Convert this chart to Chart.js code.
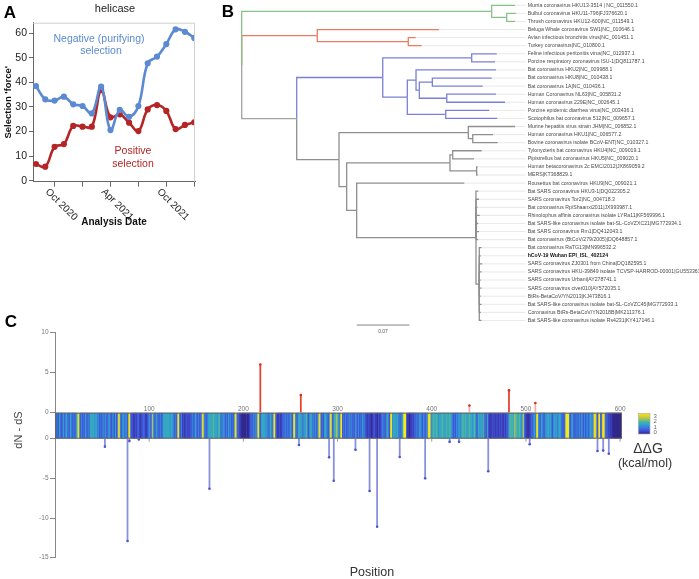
<!DOCTYPE html>
<html>
<head>
<meta charset="utf-8">
<script src="https://cdn.jsdelivr.net/npm/chart.js@4.4.1/dist/chart.umd.min.js"></script>
<style>
body{margin:0;width:699px;height:579px;position:relative;background:#fff;overflow:hidden;font-family:"Liberation Sans",Arial,sans-serif}
canvas{position:absolute}
.t{position:absolute;white-space:nowrap;transform:translate(-50%,-50%);line-height:1}
</style>
</head>
<body>
<canvas id="chartC" width="699" height="289" style="left:0;top:290px"></canvas>
<canvas id="chartA" width="210" height="232" style="left:0;top:0"></canvas>
<canvas id="chartB" width="499" height="340" style="left:200px;top:0"></canvas>

<div class="t" style="left:10px;top:12px;font-size:17px;font-weight:bold">A</div>
<div class="t" style="left:228px;top:11px;font-size:17px;font-weight:bold">B</div>
<div class="t" style="left:11px;top:321px;font-size:17px;font-weight:bold">C</div>
<div class="t" style="left:115px;top:8px;font-size:11px;color:#222">helicase</div>
<div class="t" style="left:99px;top:38px;font-size:10.5px;color:#5b8ad2">Negative (purifying)</div>
<div class="t" style="left:101px;top:50px;font-size:10.5px;color:#5b8ad2">selection</div>
<div class="t" style="left:133px;top:150px;font-size:10.5px;color:#b52525">Positive</div>
<div class="t" style="left:133px;top:163px;font-size:10.5px;color:#b52525">selection</div>
<div class="t" style="left:18px;top:430px;font-size:11px;color:#444;transform:translate(-50%,-50%) rotate(-90deg)">dN - dS</div>
<div class="t" style="left:372px;top:572px;font-size:12.5px;color:#333">Position</div>
<div class="t" style="left:648px;top:448px;font-size:14px;color:#333">ΔΔG</div>
<div class="t" style="left:645px;top:463px;font-size:12.5px;color:#333">(kcal/mol)</div>

<script>
const fontFam = '"Liberation Sans", Arial, sans-serif';
Chart.defaults.font.family = fontFam;

// ---------- panel A data ----------
const monthIdx = [0,1,2,3,4,5,6,7,8,9,10,11,12,13,14,15,16,17]; // months since Aug 2020
const negativeSel = [38.5,33.1,32.6,34.2,31.1,30.4,27.4,38.3,20.6,28.8,26.0,30.4,47.8,50.5,55.6,61.6,60.6,58.1];
const positiveSel = [6.8,5.7,13.8,14.9,22.3,22.0,22.0,36.9,25.8,27.0,23.6,20.2,29.0,30.8,28.4,21.0,22.7,23.8];
const dateTicks = [2,5,8,11,14,17];
const dateTickLabels = ['Oct 2020','','Apr 2021','','Oct 2021',''];
const forceTicks = [0,10,20,30,40,50,60];

// ---------- panel B data ----------
const leafNames = [
  'Murria coronavirus HKU13-3514 | NC_011550.1',
  'Bulbul coronavirus HKU11-796|FJ376620.1',
  'Thrush coronavirus HKU12-600|NC_011549.1',
  'Beluga Whale coronavirus SW1|NC_010646.1',
  'Avian infectious bronchitis virus|NC_001451.1',
  'Turkey coronavirus|NC_010800.1',
  'Feline infectious peritonitis virus|NC_012937.1',
  'Porcine respiratory coronavirus ISU-1|DQ811787.1',
  'Bat coronavirus HKU2|NC_009988.1',
  'Bat coronavirus HKU8|NC_010438.1',
  'Bat coronavirus 1A|NC_010436.1',
  'Human Coronavirus NL63|NC_005831.2',
  'Human coronavirus 229E|NC_002645.1',
  'Porcine epidemic diarrhea virus|NC_003436.1',
  'Scotophilus bat coronavirus 512|NC_009657.1',
  'Murine hepatitis virus strain JHM|NC_006852.1',
  'Human coronavirus HKU1|NC_006577.2',
  'Bovine coronavirus isolate BCoV-ENT|NC_010327.1',
  'Tylonycteris bat coronavirus HKU4|NC_009019.1',
  'Pipistrellus bat coronavirus HKU5|NC_009020.1',
  'Human betacoronavirus 2c EMC/2012|JX869059.2',
  'MERS|KT368829.1',
  'Rousettus bat coronavirus HKU9|NC_009021.1',
  'Bat SARS coronavirus HKU3-1|DQ022305.2',
  'SARS coronavirus Tor2|NC_004718.3',
  'Bat coronavirus Rp/Shaanxi2011|JX993987.1',
  'Rhinolophus affinis coronavirus isolate LYRa11|KF569996.1',
  'Bat SARS-like coronavirus isolate bat-SL-CoVZXC21|MG772934.1',
  'Bat SARS coronavirus Rm1|DQ412043.1',
  'Bat coronavirus (BtCoV/279/2005)|DQ648857.1',
  'Bat coronavirus RaTG13|MN996532.2',
  'hCoV-19 Wuhan EPI_ISL_402124',
  'SARS coronavirus ZJ0301 from China|DQ182595.1',
  'SARS coronavirus HKU-39849 isolate TCVSP-HARROD-00001|GU553363.1',
  'SARS coronavirus Urbani|AY278741.1',
  'SARS coronavirus civet010|AY572035.1',
  'BtRs-BetaCoV/YN2013|KJ473816.1',
  'Bat SARS-like coronavirus isolate bat-SL-CoVZC45|MG772933.1',
  'Coronavirus BtRs-BetaCoV/YN2018B|MK211376.1',
  'Bat SARS-like coronavirus isolate Rs4231|KY417146.1'
];
const boldLeaf = 31;
// leaves referenced by index into leafNames
const treeNewick = '((0:0.0310,(1:0.0124,2:0.0110):0.0200):0.3327,(3:0.1620,(4:0.0098,5:0.0178):0.1211):0.1006,' +
  '(((6:0.0333,7:0.0310):0.1184,((8:0.1065,((9:0.0791,10:0.0671):0.0173,(11:0.0656,12:0.0776):0.0365):0.0044):0.0116,(13:0.0580,14:0.0687):0.0511):0.0327):0.1145,' +
  '((15:0.0622,(16:0.0270,17:0.0333):0.0059):0.1721,(((18:0.0386,19:0.0283):0.0036,(20:0.0013,21:0.0013):0.0355):0.1375,' +
  '(22:0.1432,(23:0.003,24:0.004,25:0.002,26:0.005,27:0.003,28:0.004,29:0.003,(30:0.003,31:0.002,32:0.004,33:0.003,34:0.002,35:0.003,36:0.002,37:0.003,38:0.002,39:0.003):0.0044):0.1588):0.0133):0.0102):0.0563):0.0732);';
const cladeColors = [['0','#88c188'],['1','#e97b63'],['2','#a3a3a3'],['2.0','#7b80d6'],['2.1','#8f8f8f']];
const scaleBarLength = 0.07;

// ---------- panel C data ----------
const posSites = [218, 261, 440, 482, 510];
const posValues = [6.0, 2.2, 0.9, 2.8, 1.2];
const negSites = [53, 77, 79, 89, 164, 259, 291, 296, 319, 334, 342, 366, 393, 419, 429, 460, 504, 576, 582, 588];
const negValues = [-1.0, -12.9, -0.3, -0.1, -6.3, -0.8, -2.35, -5.3, -1.4, -6.6, -11.1, -2.3, -5.0, -0.4, -0.4, -4.1, -0.7, -1.55, -1.5, -1.9];
const positionTicks = [100, 200, 300, 400, 500, 600];
const colorbarTicks = [0, 1, 2, 3];
// ddG per residue, one digit per position (0 = 0 kcal/mol ... 9 = 3.3 kcal/mol)
const ddgLevels = (
  '32414522352453325423324589324232532425555545534232' +
  '34253235422432523894235425328932211212321122321123' +
  '43285324523242355555554554324289324121122121324235' +
  '32423289433245555565554565243532425342324892321100' +
  '00010012323425389325555453425533893211211232432423' +
  '53289432555452545632455342523489323255432489325658' +
  '54389232423252432325324232534221121101221102112342' +
  '32553289455545524245999211011212324235432432438993' +
  '55655654555655465556543232434535565564556554565325' +
  '54554623252111212112112121121223565655856556545832' +
  '11011232453894325432354554532454534554232389993245' +
  '32324234253242342354438983289238983231211100000000' + '0'
).split('').map(Number);
const ddgPerLevel = 3.3 / 9;

// ---------- panel A ----------
const frameA = {
  id: 'frameA',
  afterDraw(chart) {
    const {ctx, chartArea: a, scales: {x}} = chart;
    ctx.save();
    ctx.strokeStyle = '#d0d0d0'; ctx.lineWidth = 1;
    ctx.beginPath();
    ctx.moveTo(a.left, a.top + 0.5); ctx.lineTo(a.right - 0.5, a.top + 0.5); ctx.lineTo(a.right - 0.5, a.bottom);
    ctx.stroke();
    ctx.fillStyle = '#222'; ctx.font = '10px ' + fontFam;
    ctx.textBaseline = 'top'; ctx.textAlign = 'left';
    dateTicks.forEach((v, i) => {
      if (!dateTickLabels[i]) return;
      ctx.save();
      ctx.translate(x.getPixelForValue(v) - 4, a.bottom + 5);
      ctx.rotate(Math.PI / 4);
      ctx.fillText(dateTickLabels[i], 0, 0);
      ctx.restore();
    });
    ctx.restore();
  }
};

new Chart(document.getElementById('chartA'), {
  type: 'line',
  data: {
    datasets: [
      { data: monthIdx.map((m, i) => ({x: m, y: negativeSel[i]})), borderColor: '#5b8ad2', backgroundColor: '#5b8ad2',
        borderWidth: 2.6, pointRadius: 1.8, tension: 0.4 },
      { data: monthIdx.map((m, i) => ({x: m, y: positiveSel[i]})), borderColor: '#b52525', backgroundColor: '#b52525',
        borderWidth: 2.6, pointRadius: 1.8, tension: 0.4 }
    ]
  },
  options: {
    responsive: false, animation: false,
    layout: {padding: {top: 22.7, right: 15, left: 0, bottom: 0}},
    plugins: {legend: {display: false}, tooltip: {enabled: false}},
    scales: {
      x: {
        type: 'linear', min: -0.32, max: 17.08,
        afterBuildTicks: s => { s.ticks = dateTicks.map(v => ({value: v})); },
        ticks: {display: false},
        grid: {drawOnChartArea: false, tickLength: 5, tickColor: '#666'},
        border: {color: '#666'},
        title: {display: true, text: 'Analysis Date', color: '#111', font: {size: 10, weight: 'bold'}},
        afterFit: s => { s.height = 50.3; }
      },
      y: {
        min: -0.4, max: 64.3,
        afterBuildTicks: s => { s.ticks = forceTicks.map(v => ({value: v})); },
        ticks: {color: '#222', font: {size: 10.5}, padding: 2},
        grid: {drawOnChartArea: false, tickLength: 4, tickColor: '#666'},
        border: {color: '#666'},
        title: {display: true, text: "Selection 'force'", color: '#111', font: {size: 9.5, weight: 'bold'}, padding: {top: 3, bottom: 0}},
        afterFit: s => { s.width = 33; }
      }
    }
  },
  plugins: [frameA]
});

// ---------- panel B ----------
function parseNewick(s) {
  let i = 0;
  function node() {
    const n = {children: []};
    if (s[i] === '(') {
      i++;
      n.children.push(node());
      while (s[i] === ',') { i++; n.children.push(node()); }
      i++;
    } else {
      let name = '';
      while (!':,);'.includes(s[i])) name += s[i++];
      n.leaf = parseInt(name, 10);
    }
    n.len = 0;
    if (s[i] === ':') {
      i++;
      let num = '';
      while (!',);'.includes(s[i])) num += s[i++];
      n.len = parseFloat(num);
    }
    return n;
  }
  return node();
}

const tree = parseNewick(treeNewick);
const colorMap = Object.fromEntries(cladeColors);
function layout(n, depth, color, path) {
  n.x = depth + n.len;
  n.color = colorMap[path] || color;
  n.children.forEach((c, k) => layout(c, n.x, n.color, path === '' ? String(k) : path + '.' + k));
  n.y = n.children.length ? (n.children[0].y + n.children[n.children.length - 1].y) / 2 : n.leaf;
}
layout(tree, 0, '#a3a3a3', '');

const labelDepth = 0.3806;
const branchSets = [];
const leaderSets = [];
(function walk(n) {
  n.children.forEach(c => {
    branchSets.push({
      data: [{x: n.x, y: n.y}, {x: n.x, y: c.y}, {x: c.x, y: c.y}],
      borderColor: c.color, borderWidth: 1.3, pointRadius: 0, showLine: true, borderJoinStyle: 'miter'
    });
    if (!c.children.length) {
      leaderSets.push({
        data: [{x: c.x, y: c.y}, {x: labelDepth - 0.003, y: c.y}],
        borderColor: '#e2e2e2', borderWidth: 0.8, pointRadius: 0, showLine: true
      });
    }
    walk(c);
  });
})(tree);

const scaleBarStart = 0.1531, scaleBarRow = 39.57;
const scaleBarSet = {
  data: [{x: scaleBarStart, y: scaleBarRow}, {x: scaleBarStart + scaleBarLength, y: scaleBarRow}],
  borderColor: '#777', borderWidth: 0.9, pointRadius: 0, showLine: true
};

const treeLabels = {
  id: 'treeLabels',
  afterDatasetsDraw(chart) {
    const {ctx, scales: {x, y}} = chart;
    ctx.save();
    ctx.textBaseline = 'middle'; ctx.textAlign = 'left';
    leafNames.forEach((name, i) => {
      ctx.fillStyle = i === boldLeaf ? '#111' : '#4a4a4a';
      ctx.font = (i === boldLeaf ? 'bold ' : '') + '5.2px ' + fontFam;
      ctx.fillText(name, x.getPixelForValue(labelDepth), y.getPixelForValue(i));
    });
    ctx.fillStyle = '#555'; ctx.font = '5px ' + fontFam; ctx.textAlign = 'center';
    ctx.fillText(String(scaleBarLength), x.getPixelForValue(scaleBarStart + scaleBarLength / 2), y.getPixelForValue(scaleBarRow + 0.83));
    ctx.restore();
  }
};

new Chart(document.getElementById('chartB'), {
  type: 'scatter',
  data: {datasets: [...branchSets, ...leaderSets, scaleBarSet]},
  options: {
    responsive: false, animation: false,
    layout: {padding: 0},
    plugins: {legend: {display: false}, tooltip: {enabled: false}},
    scales: {
      x: {type: 'linear', display: false, min: -0.0555, max: 0.6086},
      y: {type: 'linear', display: false, reverse: true, min: -0.656, max: 41.42}
    }
  },
  plugins: [treeLabels]
});

// ---------- panel C ----------
// parula-like colour map, toned to the printed figure
const parulaStops = [[50,40,140],[65,75,210],[60,115,225],[45,155,215],[60,180,175],[150,195,90],[225,205,45],[245,235,25]];
function parulaColor(t) {
  t = Math.max(0, Math.min(1, t));
  const f = t * (parulaStops.length - 1);
  const i = Math.min(parulaStops.length - 2, Math.floor(f));
  const r = f - i;
  const a = parulaStops[i], b = parulaStops[i + 1];
  return `rgb(${a.map((v, k) => Math.round(v + (b[k] - v) * r)).join(',')})`;
}

const stripDecor = {
  id: 'stripDecor',
  afterDatasetsDraw(chart) {
    const {ctx, chartArea: a, scales: {x, yMid}} = chart;
    const left = x.getPixelForValue(0.5), right = x.getPixelForValue(ddgLevels.length + 0.5);
    ctx.save();
    ctx.strokeStyle = '#666'; ctx.lineWidth = 1;
    ctx.strokeRect(left, yMid.top + 0.5, right - left, yMid.bottom - yMid.top - 1);
    ctx.fillStyle = '#777'; ctx.font = '6.5px ' + fontFam;
    ctx.textAlign = 'center'; ctx.textBaseline = 'bottom';
    ctx.strokeStyle = '#888'; ctx.lineWidth = 0.8;
    positionTicks.forEach(v => {
      const px = x.getPixelForValue(v);
      ctx.fillText(String(v), px, yMid.top - 0.5);
      ctx.beginPath(); ctx.moveTo(px, yMid.bottom); ctx.lineTo(px, yMid.bottom + 3); ctx.stroke();
    });
    // colour bar
    const cx = a.right + 16.3, cw = 11.7, ct = yMid.top + 0.6, ch = 20.7;
    const g = ctx.createLinearGradient(0, ct + ch, 0, ct);
    parulaStops.forEach((c, k) => g.addColorStop(k / (parulaStops.length - 1), `rgb(${c.join(',')})`));
    ctx.fillStyle = g; ctx.fillRect(cx, ct, cw, ch);
    ctx.strokeStyle = '#aaa'; ctx.lineWidth = 0.6; ctx.strokeRect(cx, ct, cw, ch);
    ctx.fillStyle = '#666'; ctx.font = '6px ' + fontFam;
    ctx.textAlign = 'left'; ctx.textBaseline = 'middle';
    colorbarTicks.forEach(v => ctx.fillText(String(v), cx + cw + 3.5, ct + ch - 1.3 - v * 5.57));
    ctx.restore();
  }
};

const yTickStyle = {color: '#777', font: {size: 6.5}, padding: 1.5, stepSize: 5};
const yGridStyle = {drawOnChartArea: false, tickLength: 5, tickColor: '#888'};

new Chart(document.getElementById('chartC'), {
  type: 'bar',
  data: {
    datasets: [
      { type: 'scatter', yAxisID: 'yPos', data: posSites.map((s, i) => ({x: s, y: posValues[i]})),
        backgroundColor: '#d8301e', borderColor: '#d8301e', pointRadius: 1.3, borderWidth: 0 },
      { type: 'scatter', yAxisID: 'yNeg', data: negSites.map((s, i) => ({x: s, y: negValues[i]})),
        backgroundColor: '#4b56c8', borderColor: '#4b56c8', pointRadius: 1.3, borderWidth: 0 },
      { type: 'bar', yAxisID: 'yPos', data: posSites.map((s, i) => ({x: s, y: posValues[i]})), grouped: false, barThickness: 1.1,
        backgroundColor: c => (posValues[c.dataIndex] < 1.5 ? 'rgba(232,110,100,0.55)' : 'rgba(226,56,36,0.95)') },
      { type: 'bar', yAxisID: 'yNeg', data: negSites.map((s, i) => ({x: s, y: negValues[i]})), grouped: false, barThickness: 1.1,
        backgroundColor: 'rgba(96,106,210,0.75)' },
      { type: 'bar', yAxisID: 'yMid', data: ddgLevels.map((v, i) => ({x: i + 1, y: [0, 1]})), grouped: false, barThickness: 1.7,
        borderWidth: 0, backgroundColor: ddgLevels.map(v => parulaColor(Math.pow(v * ddgPerLevel / 3.3, 1.15))) }
    ]
  },
  options: {
    responsive: false, animation: false,
    layout: {padding: {left: 7, right: 77, top: 42.3, bottom: 21.3}},
    plugins: {legend: {display: false}, tooltip: {enabled: false}},
    scales: {
      x: {type: 'linear', min: 0, max: 602, offset: false, display: false},
      // stacked axes are laid out bottom-up
      yNeg: {type: 'linear', position: 'left', stack: 'dnds', stackWeight: 119, min: -15, max: 0,
        ticks: yTickStyle, grid: yGridStyle, border: {color: '#888'}, afterFit: s => { s.width = 48; }},
      yMid: {type: 'linear', position: 'left', stack: 'dnds', stackWeight: 26, min: 0, max: 1,
        ticks: {display: false}, grid: {drawOnChartArea: false, drawTicks: false}, border: {color: '#888'}, afterFit: s => { s.width = 48; }},
      yPos: {type: 'linear', position: 'left', stack: 'dnds', stackWeight: 80.4, min: 0, max: 10,
        ticks: yTickStyle, grid: yGridStyle, border: {color: '#888'}, afterFit: s => { s.width = 48; }}
    }
  },
  plugins: [stripDecor]
});
</script>
</body>
</html>
